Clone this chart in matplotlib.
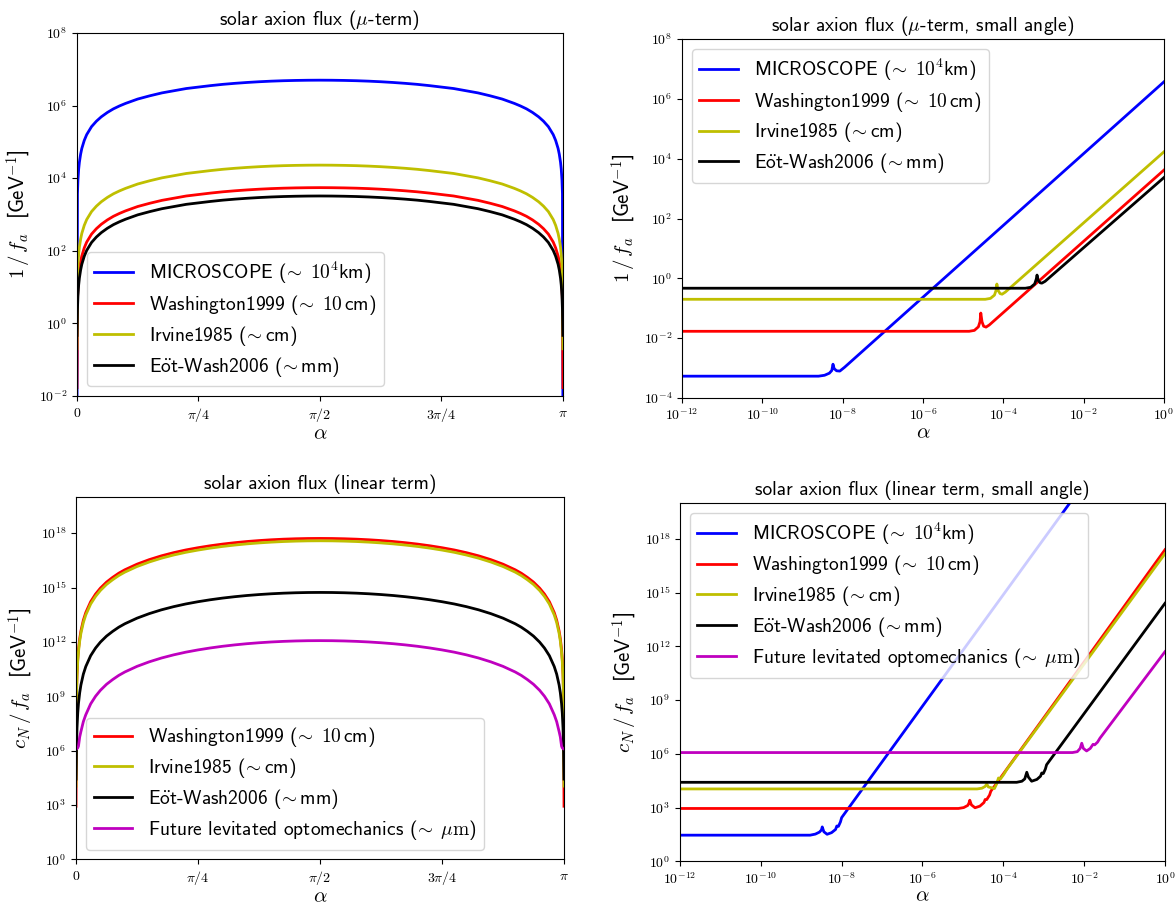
import numpy as np
import matplotlib
matplotlib.use("Agg")
import matplotlib.pyplot as plt
import matplotlib.ticker as ticker

plt.rcParams["font.family"] = ["cmss10", "DejaVu Sans"]
plt.rcParams["mathtext.fontset"] = "cm"
plt.rcParams["axes.unicode_minus"] = True

# ---- labels ----
lab_micro = r"MICROSCOPE (${\!\sim}\;10^4$km)"
lab_wash = r"Washington1999 (${\!\sim}\;10\,$cm)"
lab_irv = r"Irvine1985 (${\!\sim}$cm)"
lab_eot = r"E$\ddot{\mathsf{o}}$t-Wash2006 (${\!\sim}$mm)"
lab_fut = r"Future levitated optomechanics (${\!\sim}\;\mu\mathrm{m}$)"

# ---- full angle: alpha / pi from 0 to 1/2 (curves are symmetric about pi/2) ----
a_half = [0, 0.001, 0.002, 0.0035, 0.005, 0.0075, 0.01, 0.015, 0.02, 0.03, 0.04, 0.05, 0.0625, 0.075,
          0.0875, 0.1, 0.125, 0.15, 0.175, 0.2, 0.225, 0.25, 0.275, 0.3, 0.325, 0.35, 0.375, 0.4,
          0.425, 0.45, 0.475, 0.5]

# mu-term, log10(1/f_a)
mu_blue = [-3.27, 3.57, 3.95, 4.25, 4.44, 4.66, 4.82, 5.04, 5.20, 5.42, 5.57, 5.69, 5.81, 5.91,
           5.99, 6.06, 6.18, 6.27, 6.35, 6.41, 6.47, 6.51, 6.55, 6.585, 6.613, 6.637, 6.657, 6.673,
           6.685, 6.693, 6.698, 6.70]
mu_yellow = [-0.70, 1.23, 1.61, 1.91, 2.10, 2.32, 2.48, 2.70, 2.86, 3.08, 3.23, 3.35, 3.47, 3.57,
             3.65, 3.72, 3.84, 3.93, 4.01, 4.07, 4.13, 4.17, 4.21, 4.245, 4.273, 4.297, 4.317, 4.333,
             4.345, 4.353, 4.358, 4.36]
mu_red = [-1.77, 0.61, 0.99, 1.29, 1.48, 1.70, 1.86, 2.08, 2.24, 2.46, 2.61, 2.73, 2.85, 2.95,
          3.03, 3.10, 3.22, 3.31, 3.39, 3.45, 3.51, 3.55, 3.59, 3.625, 3.653, 3.677, 3.697, 3.713,
          3.725, 3.733, 3.738, 3.74]
mu_black = [-0.33, 0.38, 0.76, 1.06, 1.25, 1.47, 1.63, 1.85, 2.01, 2.23, 2.38, 2.50, 2.62, 2.72,
            2.80, 2.87, 2.99, 3.08, 3.16, 3.22, 3.28, 3.32, 3.36, 3.395, 3.423, 3.447, 3.467, 3.483,
            3.495, 3.503, 3.508, 3.51]

# linear term, log10(c_N/f_a)
lin_red = [2.93, 9.20, 10.22, 11.05, 11.58, 12.17, 12.60, 13.20, 13.62, 14.22, 14.64, 14.97, 15.30, 15.56,
           15.79, 15.98, 16.29, 16.54, 16.75, 16.925, 17.074, 17.198, 17.305, 17.397, 17.474, 17.54, 17.593,
           17.636, 17.669, 17.692, 17.706, 17.71]
lin_yellow = [4.04, 9.07, 10.09, 10.92, 11.45, 12.04, 12.47, 13.07, 13.49, 14.09, 14.51, 14.84, 15.17, 15.43,
              15.66, 15.85, 16.16, 16.41, 16.62, 16.795, 16.944, 17.068, 17.175, 17.267, 17.344, 17.41, 17.463,
              17.506, 17.539, 17.562, 17.576, 17.58]
lin_black = [4.43, 6.22, 7.24, 8.07, 8.60, 9.19, 9.62, 10.22, 10.64, 11.24, 11.66, 11.99, 12.32, 12.58,
             12.81, 13.00, 13.31, 13.56, 13.77, 13.945, 14.094, 14.218, 14.325, 14.417, 14.494, 14.56, 14.613,
             14.656, 14.689, 14.712, 14.726, 14.73]
lin_mag = [6.09, 6.10, 6.11, 6.15, 6.25, 6.75, 7.05, 7.60, 7.98, 8.58, 9.00, 9.33, 9.66, 9.92,
           10.15, 10.34, 10.65, 10.90, 11.11, 11.285, 11.434, 11.558, 11.665, 11.757, 11.834, 11.90, 11.953,
           11.996, 12.029, 12.052, 12.066, 12.07]

# ---- small angle, mu-term (log10 alpha, log10 1/f_a) ----
sa_mu_blue_x = [-12, -8.6, -8.45, -8.33, -8.27, -8.24, -8.21, -8.15, -8.07, -7.95, 0]
sa_mu_blue_y = [-3.27, -3.27, -3.24, -3.17, -3.08, -2.87, -3.02, -3.09, -3.10, -2.97, 6.57]
sa_mu_red_x = [-12, -4.85, -4.72, -4.62, -4.58, -4.56, -4.53, -4.49, -4.43, -4.35, 0]
sa_mu_red_y = [-1.77, -1.77, -1.74, -1.62, -1.45, -1.16, -1.45, -1.60, -1.63, -1.56, 3.62]
sa_mu_yel_x = [-12, -4.45, -4.32, -4.22, -4.18, -4.16, -4.13, -4.08, -4.03, -3.95, 0]
sa_mu_yel_y = [-0.70, -0.70, -0.67, -0.56, -0.40, -0.19, -0.40, -0.51, -0.53, -0.46, 4.23]
sa_mu_blk_x = [-12, -3.45, -3.32, -3.22, -3.18, -3.16, -3.13, -3.08, -3.04, -2.96, 0]
sa_mu_blk_y = [-0.33, -0.33, -0.30, -0.19, -0.03, 0.11, -0.07, -0.15, -0.16, -0.10, 3.37]

# ---- small angle, linear term ----
sa_lin_blue_x = [-12, -8.78, -8.65, -8.55, -8.50, -8.48, -8.44, -8.36, -8.25, -8.15, -8.12, -8.08, -8.03, -8.00, -2.0]
sa_lin_blue_y = [1.46, 1.46, 1.52, 1.63, 1.75, 1.92, 1.65, 1.51, 1.60, 1.78, 1.97, 1.95, 2.20, 2.44, 21.1]
sa_lin_red_x = [-12, -5.11, -4.98, -4.88, -4.85, -4.83, -4.79, -4.70, -4.58, -4.48, -4.45, -4.41, -4.34, -4.31, 0]
sa_lin_red_y = [2.95, 2.95, 3.00, 3.12, 3.25, 3.41, 3.15, 2.99, 3.08, 3.28, 3.45, 3.45, 3.70, 3.91, 17.39]
sa_lin_yel_x = [-12, -4.65, -4.53, -4.45, -4.41, -4.37, -4.22, -4.17, -4.12, -4.07, -3.99, -3.92, 0]
sa_lin_yel_y = [4.04, 4.04, 4.08, 4.18, 4.32, 4.15, 4.06, 4.30, 4.65, 4.60, 4.85, 5.11, 17.17]
sa_lin_blk_x = [-12, -3.67, -3.54, -3.47, -3.42, -3.38, -3.30, -3.17, -3.08, -3.05, -3.01, -2.96, -2.93, 0]
sa_lin_blk_y = [4.41, 4.41, 4.47, 4.60, 4.97, 4.70, 4.47, 4.57, 4.75, 4.93, 4.90, 5.15, 5.39, 14.4]
sa_lin_mag_x = [-12, -2.29, -2.17, -2.10, -2.06, -2.02, -1.94, -1.85, -1.78, -1.74, -1.67, -1.61, 0]
sa_lin_mag_y = [6.07, 6.07, 6.12, 6.30, 6.59, 6.30, 6.16, 6.30, 6.53, 6.50, 6.65, 6.87, 11.7]

pi_ticks = [0, np.pi / 4, np.pi / 2, 3 * np.pi / 4, np.pi]
pi_labels = [r"$0$", r"$\pi/4$", r"$\pi/2$", r"$3\pi/4$", r"$\pi$"]


def mirror(v):
    # reference curves are symmetric about pi/2
    return list(v) + list(v[-2::-1])


def logfmt(v, pos):
    return r"$10^{%d}$" % int(round(np.log10(v)))


af = np.array(a_half + [1 - a for a in a_half[-2::-1]]) * np.pi
p = lambda v: 10.0 ** np.array(v)

LW = 2.0
LEG = dict(fontsize=14, labelspacing=0.35)
fig = plt.figure(figsize=(11.75, 9.06), dpi=100)

ax1 = fig.add_axes([0.0655, 0.5629, 0.4136, 0.4007])
ax2 = fig.add_axes([0.5804, 0.5607, 0.4102, 0.3962])
ax3 = fig.add_axes([0.0647, 0.0515, 0.4153, 0.4000])
ax4 = fig.add_axes([0.5787, 0.0493, 0.4128, 0.3956])

# top left
ax1.plot(af, p(mirror(mu_blue)), "b", lw=LW, label=lab_micro)
ax1.plot(af, p(mirror(mu_red)), "r", lw=LW, label=lab_wash)
ax1.plot(af, p(mirror(mu_yellow)), "y", lw=LW, label=lab_irv)
ax1.plot(af, p(mirror(mu_black)), "k", lw=LW, label=lab_eot)
ax1.set_yscale("log")
ax1.set_xlim(0, np.pi)
ax1.set_ylim(1e-2, 1e8)
ax1.set_xticks(pi_ticks, labels=pi_labels)
ax1.yaxis.set_major_locator(ticker.FixedLocator([10.0 ** k for k in range(-2, 9, 2)]))
ax1.set_title(r"solar axion flux ($\mu$-term)", fontsize=14)
ax1.set_ylabel(r"$1\,/\,f_a$  [GeV$^{-1}$]", fontsize=15)
ax1.legend(loc="lower left", **LEG)

# top right
ax2.plot(p(sa_mu_blue_x), p(sa_mu_blue_y), "b", lw=LW, label=lab_micro)
ax2.plot(p(sa_mu_red_x), p(sa_mu_red_y), "r", lw=LW, label=lab_wash)
ax2.plot(p(sa_mu_yel_x), p(sa_mu_yel_y), "y", lw=LW, label=lab_irv)
ax2.plot(p(sa_mu_blk_x), p(sa_mu_blk_y), "k", lw=LW, label=lab_eot)
ax2.set_xscale("log")
ax2.set_yscale("log")
ax2.set_xlim(1e-12, 1)
ax2.set_ylim(1e-4, 1e8)
ax2.xaxis.set_major_locator(ticker.FixedLocator([10.0 ** k for k in range(-12, 1, 2)]))
ax2.yaxis.set_major_locator(ticker.FixedLocator([10.0 ** k for k in range(-4, 9, 2)]))
ax2.set_title(r"solar axion flux ($\mu$-term, small angle)", fontsize=14)
ax2.set_ylabel(r"$1\,/\,f_a$  [GeV$^{-1}$]", fontsize=15)
ax2.legend(loc="upper left", **LEG)

# bottom left
ax3.plot(af, p(mirror(lin_red)), "r", lw=LW, label=lab_wash)
ax3.plot(af, p(mirror(lin_yellow)), "y", lw=LW, label=lab_irv)
ax3.plot(af, p(mirror(lin_black)), "k", lw=LW, label=lab_eot)
ax3.plot(af, p(mirror(lin_mag)), "m", lw=LW, label=lab_fut)
ax3.set_yscale("log")
ax3.set_xlim(0, np.pi)
ax3.set_ylim(1, 1e20)
ax3.set_xticks(pi_ticks, labels=pi_labels)
ax3.yaxis.set_major_locator(ticker.FixedLocator([10.0 ** k for k in range(0, 19, 3)]))
ax3.set_title("solar axion flux (linear term)", fontsize=14)
ax3.set_ylabel(r"$c_N\,/\,f_a$  [GeV$^{-1}$]", fontsize=15)
ax3.legend(loc="lower left", **LEG)

# bottom right
ax4.plot(p(sa_lin_blue_x), p(sa_lin_blue_y), "b", lw=LW, label=lab_micro)
ax4.plot(p(sa_lin_red_x), p(sa_lin_red_y), "r", lw=LW, label=lab_wash)
ax4.plot(p(sa_lin_yel_x), p(sa_lin_yel_y), "y", lw=LW, label=lab_irv)
ax4.plot(p(sa_lin_blk_x), p(sa_lin_blk_y), "k", lw=LW, label=lab_eot)
ax4.plot(p(sa_lin_mag_x), p(sa_lin_mag_y), "m", lw=LW, label=lab_fut)
ax4.set_xscale("log")
ax4.set_yscale("log")
ax4.set_xlim(1e-12, 1)
ax4.set_ylim(1, 1e20)
ax4.xaxis.set_major_locator(ticker.FixedLocator([10.0 ** k for k in range(-12, 1, 2)]))
ax4.yaxis.set_major_locator(ticker.FixedLocator([10.0 ** k for k in range(0, 19, 3)]))
ax4.set_title("solar axion flux (linear term, small angle)", fontsize=14)
ax4.set_ylabel(r"$c_N\,/\,f_a$  [GeV$^{-1}$]", fontsize=15)
ax4.legend(loc="upper left", **LEG)

for ax in (ax1, ax2, ax3, ax4):
    ax.xaxis.set_minor_locator(ticker.NullLocator())
    ax.yaxis.set_minor_locator(ticker.NullLocator())
    ax.yaxis.set_major_formatter(ticker.FuncFormatter(logfmt))
    ax.tick_params(labelsize=10)
    ax.set_xlabel(r"$\alpha$", fontsize=15, labelpad=0)
for ax in (ax2, ax4):
    ax.xaxis.set_major_formatter(ticker.FuncFormatter(logfmt))

fig.savefig("out.png", dpi=100)
